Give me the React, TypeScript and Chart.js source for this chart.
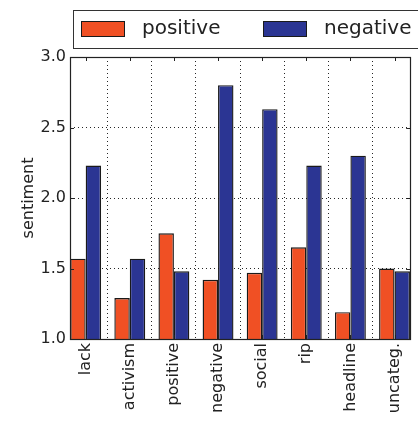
import React, { useEffect, useRef } from "react";
import { Chart, registerables } from "chart.js";
Chart.register(...registerables);

const categories = ["lack", "activism", "positive", "negative", "social", "rip", "headline", "uncateg."];
const seriesNames = ["positive", "negative"];
const positiveValues = [1.57, 1.29, 1.75, 1.42, 1.47, 1.65, 1.19, 1.5];
const negativeValues = [2.23, 1.57, 1.48, 2.8, 2.63, 2.23, 2.3, 1.48];
const yTicks = [1.0, 1.5, 2.0, 2.5, 3.0];
const yTitle = "sentiment";

const ORANGE = "#F05024";
const BLUE = "#2B3593";
const EDGE = "#1a1a1a";
const FONT = "'DejaVu Sans', sans-serif";

const framePlugin = {
  id: "frame",
  afterDraw(chart: any) {
    const { ctx, chartArea } = chart;
    const { left, right, top, bottom } = chartArea;
    const xs = chart.scales.x;
    const ys = chart.scales.y;
    ctx.save();
    ctx.strokeStyle = "#222";
    ctx.lineWidth = 1;
    ctx.setLineDash([]);
    ctx.beginPath();
    categories.forEach((_, i) => {
      const px = Math.round(xs.getPixelForValue(i)) + 0.5;
      ctx.moveTo(px, top);
      ctx.lineTo(px, top + 4);
      ctx.moveTo(px, bottom);
      ctx.lineTo(px, bottom - 4);
    });
    yTicks.forEach((v) => {
      const py = Math.round(ys.getPixelForValue(v)) + 0.5;
      ctx.moveTo(left, py);
      ctx.lineTo(left + 4, py);
      ctx.moveTo(right, py);
      ctx.lineTo(right - 4, py);
    });
    ctx.stroke();
    ctx.lineWidth = 1.2;
    ctx.strokeRect(Math.round(left) + 0.5, Math.round(top) + 0.5, Math.round(right - left), Math.round(bottom - top));
    ctx.restore();
  },
};

const legendPlugin = {
  id: "boxLegend",
  afterDraw(chart: any) {
    const { ctx } = chart;
    ctx.save();
    ctx.fillStyle = "#fff";
    ctx.strokeStyle = "#333";
    ctx.lineWidth = 1;
    ctx.fillRect(73.5, 10.5, 400, 38);
    ctx.strokeRect(73.5, 10.5, 400, 38);
    const boxX = [81, 263];
    const textX = [142, 324];
    chart.data.datasets.forEach((ds: any, i: number) => {
      ctx.fillStyle = ds.backgroundColor;
      ctx.fillRect(boxX[i], 21, 43, 15);
      ctx.strokeStyle = EDGE;
      ctx.strokeRect(boxX[i] + 0.5, 21.5, 43, 15);
      ctx.fillStyle = "#222";
      ctx.font = `20px ${FONT}`;
      ctx.textBaseline = "middle";
      ctx.textAlign = "left";
      ctx.fillText(ds.label, textX[i], 29);
    });
    ctx.restore();
  },
};

export default function App() {
  const ref = useRef<HTMLCanvasElement | null>(null);
  useEffect(() => {
    if (!ref.current) return;
    const chart = new Chart(ref.current, {
      type: "bar",
      data: {
        datasets: [
          {
            label: seriesNames[0],
            data: positiveValues.map((v, i) => ({ x: i, y: v })),
            backgroundColor: ORANGE,
            borderColor: EDGE,
            borderWidth: 1.4,
            borderSkipped: false,
          },
          {
            label: seriesNames[1],
            data: negativeValues.map((v, i) => ({ x: i, y: v })),
            backgroundColor: BLUE,
            borderColor: EDGE,
            borderWidth: 1.4,
            borderSkipped: false,
          },
        ],
      },
      plugins: [framePlugin, legendPlugin],
      options: {
        animation: false,
        responsive: false,
        devicePixelRatio: 1,
        layout: { padding: { top: 57, right: 6, left: 0, bottom: 0 } },
        plugins: { legend: { display: false }, tooltip: { enabled: false } },
        datasets: { bar: { categoryPercentage: 0.7, barPercentage: 1.0 } },
        scales: {
          x: {
            type: "linear",
            min: -0.355,
            max: 7.355,
            offset: false,
            z: 1,
            afterFit(scale: any) {
              scale.height = 82;
            },
            afterBuildTicks(scale: any) {
              scale.ticks = categories.map((_, i) => ({ value: i }));
            },
            ticks: {
              autoSkip: false,
              minRotation: 90,
              maxRotation: 90,
              padding: 4,
              color: "#222",
              font: { family: FONT, size: 16 },
              callback: (v: any) => categories[v as number] ?? "",
            },
            grid: {
              color: "rgba(0,0,0,0.85)",
              lineWidth: 1,
              drawTicks: false,
            },
            border: { display: false, dash: [1, 3] },
          },
          y: {
            min: 1,
            max: 3,
            z: 1,
            afterFit(scale: any) {
              scale.width = 70;
            },
            afterBuildTicks(scale: any) {
              scale.ticks = yTicks.map((v) => ({ value: v }));
            },
            ticks: {
              padding: 4,
              color: "#222",
              font: { family: FONT, size: 16 },
              callback: (v: any) => Number(v).toFixed(1),
            },
            grid: {
              color: "rgba(0,0,0,0.85)",
              lineWidth: 1,
              drawTicks: false,
            },
            border: { display: false, dash: [1, 3] },
            title: {
              display: true,
              text: yTitle,
              color: "#222",
              font: { family: FONT, size: 16 },
              padding: { top: 19, bottom: 0 },
            },
          },
        },
      },
    });
    return () => chart.destroy();
  }, []);
  return (
    <div style={{ position: "absolute", left: 0, top: 0, width: 418, height: 421, background: "#fff" }}>
      <canvas ref={ref} width={418} height={421} style={{ width: 418, height: 421, display: "block" }} />
    </div>
  );
}
